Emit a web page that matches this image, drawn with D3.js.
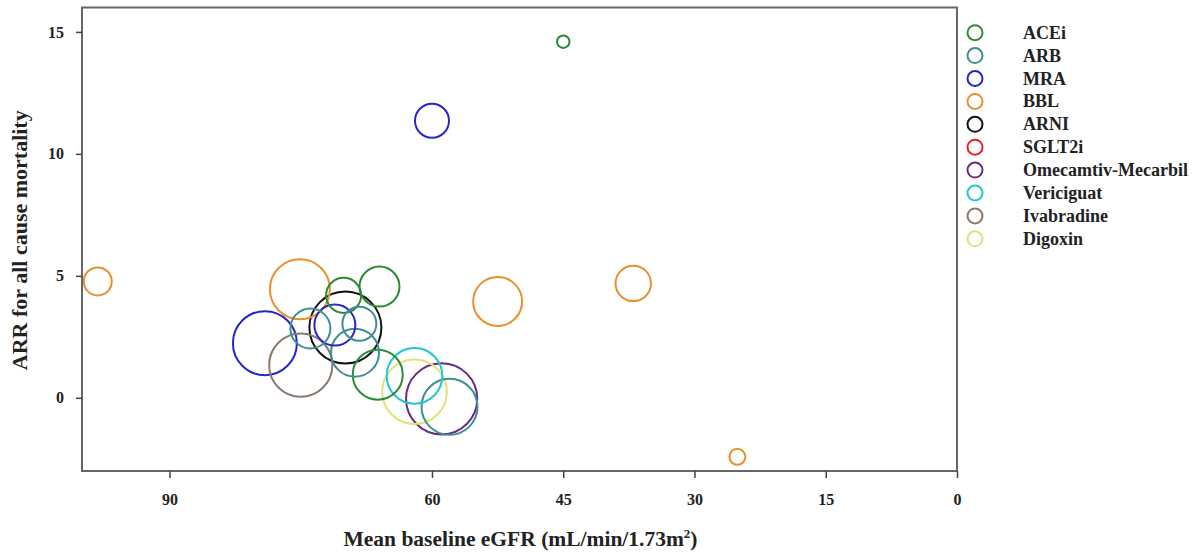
<!DOCTYPE html>
<html>
<head>
<meta charset="utf-8">
<script src="https://cdn.jsdelivr.net/npm/d3@7"></script>
<style>
  body { margin: 0; background: #fff; }
  text { font-family: "Liberation Serif", "Times New Roman", serif; font-weight: bold; fill: #222; }
</style>
</head>
<body>
<div id="chart"></div>
<script>
// legend classes and colours
let classes = ["ACEi", "ARB", "MRA", "BBL", "ARNI", "SGLT2i", "Omecamtiv-Mecarbil", "Vericiguat", "Ivabradine", "Digoxin"];
let classColors = ["#2f8a35", "#3f8f90", "#2525c8", "#e8902c", "#111111", "#e8202a", "#6a2a7e", "#22c8cc", "#8a7a70", "#e2e27a"];

// one entry per trial
let trialClass = ["ACEi", "ACEi", "ACEi", "ACEi",
                  "ARB", "ARB", "ARB", "ARB",
                  "MRA", "MRA", "MRA",
                  "BBL", "BBL", "BBL", "BBL", "BBL",
                  "ARNI", "Omecamtiv-Mecarbil", "Vericiguat", "Ivabradine", "Digoxin"];
let egfr = [45.0, 70.1, 66.0, 66.2,
            73.9, 68.3, 68.8, 58.0,
            60.0, 79.1, 71.1,
            98.2, 75.1, 52.5, 37.0, 25.1,
            69.9, 58.9, 62.0, 75.0, 62.0];
let arr = [14.6, 4.2, 4.56, 0.95,
           2.84, 3.04, 1.85, -0.37,
           11.36, 2.24, 2.98,
           4.77, 4.45, 3.95, 4.69, -2.42,
           2.88, -0.04, 0.9, 1.34, 0.25];
let sampleSize = [253, 2000, 2600, 4070,
                  2600, 1880, 3750, 5100,
                  1880, 6660, 2737,
                  1275, 5860, 3900, 2040, 416,
                  8442, 8256, 5050, 6505, 6800];

let xTicks = [90, 60, 45, 30, 15, 0];
let yTicks = [0, 5, 10, 15];

let width = 1192, height = 552;
let plot = { left: 82, right: 957, top: 7.5, bottom: 471 };

let data = trialClass.map(function(c, i) {
    return { cls: c, egfr: egfr[i], arr: arr[i], n: sampleSize[i] };
});

let svg = d3.select("#chart")
    .append("svg")
    .attr("width", width)
    .attr("height", height);

let x = d3.scaleLinear().domain([100, 0]).range([plot.left, plot.right]);
let y = d3.scaleLinear().domain([-3, 16]).range([plot.bottom, plot.top]);
let r = d3.scaleSqrt().domain([0, 8442]).range([0, 36]);
let color = d3.scaleOrdinal().domain(classes).range(classColors);

// bubbles, biggest drawn first
let sorted = data.slice().sort(function(a, b) { return b.n - a.n; });
svg.append("g")
    .selectAll("circle")
    .data(sorted)
    .enter()
    .append("circle")
    .attr("cx", function(d) { return x(d.egfr); })
    .attr("cy", function(d) { return y(d.arr); })
    .attr("r", function(d) { return r(d.n); })
    .attr("fill", "none")
    .attr("stroke", function(d) { return color(d.cls); })
    .attr("stroke-width", 2);

// frame
svg.append("rect")
    .attr("x", plot.left)
    .attr("y", plot.top)
    .attr("width", plot.right - plot.left)
    .attr("height", plot.bottom - plot.top)
    .attr("fill", "none")
    .attr("stroke", "#666")
    .attr("stroke-width", 2);

let xAxis = svg.append("g")
    .attr("transform", `translate(0, ${plot.bottom})`)
    .call(d3.axisBottom(x).tickValues(xTicks).tickSize(7).tickPadding(16).tickFormat(d3.format("d")));
let yAxis = svg.append("g")
    .attr("transform", `translate(${plot.left}, 0)`)
    .call(d3.axisLeft(y).tickValues(yTicks).tickSize(6).tickPadding(12).tickFormat(d3.format("d")));

[xAxis, yAxis].forEach(function(a) {
    a.select(".domain").remove();
    a.selectAll(".tick line").attr("stroke", "#444").attr("stroke-width", 1.5);
    a.selectAll(".tick text")
        .style("font-family", "'Liberation Serif', serif")
        .style("font-weight", "bold")
        .style("font-size", "16px")
        .attr("fill", "#222");
});

// axis titles
let xTitle = svg.append("text")
    .attr("x", (plot.left + plot.right) / 2 + 1)
    .attr("y", 546)
    .style("text-anchor", "middle")
    .style("font-size", "21.5px");
xTitle.append("tspan").text("Mean baseline eGFR (mL/min/1.73m");
xTitle.append("tspan").attr("dy", -8).style("font-size", "13px").text("2");
xTitle.append("tspan").attr("dy", 8).text(")");

svg.append("text")
    .attr("transform", `translate(27, ${(plot.top + plot.bottom) / 2 + 1}) rotate(-90)`)
    .style("text-anchor", "middle")
    .style("font-size", "22px")
    .text("ARR for all cause mortality");

// legend
let legend = svg.append("g")
    .selectAll("g")
    .data(classes)
    .enter()
    .append("g")
    .attr("transform", function(d, i) { return `translate(975, ${32.7 + i * 22.9})`; });

legend.append("circle")
    .attr("r", 7.5)
    .attr("fill", "none")
    .attr("stroke", function(d) { return color(d); })
    .attr("stroke-width", 2);

legend.append("text")
    .attr("x", 48)
    .attr("y", 6)
    .style("font-size", "18px")
    .text(function(d) { return d; });
</script>
</body>
</html>
